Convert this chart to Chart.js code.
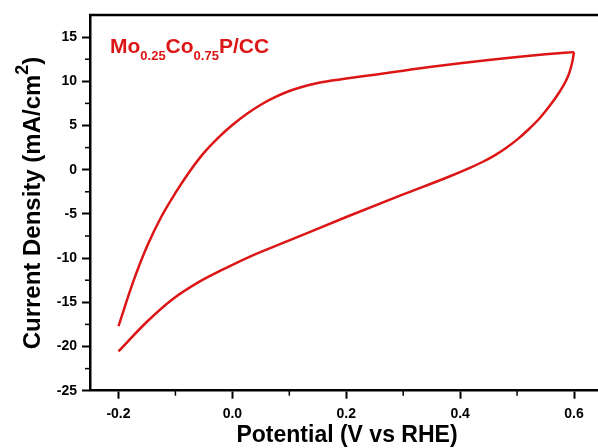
<!DOCTYPE html>
<html>
<head>
<meta charset="utf-8">
<script src="https://cdn.jsdelivr.net/npm/chart.js@4/dist/chart.umd.min.js"></script>
<style>
  html, body { margin: 0; padding: 0; background: #fff; overflow: hidden; }
  #wrap { width: 598px; height: 448px; overflow: hidden; }
</style>
</head>
<body>
<div id="wrap"><canvas id="cv" width="620" height="448"></canvas></div>
<script>
// CV sweep, forward (anodic) branch: potential (V vs RHE) and current density (mA/cm2)
const fwdPotential = [-0.2, -0.175, -0.15, -0.125, -0.1, -0.075, -0.05, -0.025, 0.0, 0.025, 0.05, 0.075, 0.1, 0.125, 0.15, 0.175, 0.2, 0.25, 0.3, 0.35, 0.4, 0.45, 0.5, 0.55, 0.6];
const fwdCurrent   = [-17.7, -12.83, -8.7, -5.35, -2.63, -0.2, 1.9, 3.6, 5.05, 6.3, 7.35, 8.2, 8.9, 9.42, 9.8, 10.08, 10.32, 10.75, 11.2, 11.65, 12.05, 12.42, 12.75, 13.05, 13.3];

// reverse (cathodic) branch
const revPotential = [0.6, 0.597, 0.592, 0.585, 0.575, 0.56, 0.54, 0.52, 0.5, 0.48, 0.46, 0.44, 0.42, 0.38, 0.3, 0.2, 0.1, 0.03, -0.02, -0.06, -0.105, -0.15, -0.2];
const revCurrent   = [13.3, 12.2, 11.0, 9.95, 8.85, 7.45, 5.85, 4.55, 3.4, 2.43, 1.6, 0.9, 0.3, -0.8, -2.8, -5.35, -8.0, -9.85, -11.4, -12.75, -14.65, -17.2, -20.55];

const xTicks = [-0.2, 0.0, 0.2, 0.4, 0.6];
const xMinor = [-0.1, 0.1, 0.3, 0.5];
const yTicks = [-25, -20, -15, -10, -5, 0, 5, 10, 15];
const yMinor = [-22.5, -17.5, -12.5, -7.5, -2.5, 2.5, 7.5, 12.5];

const RED = "#dc1616";
const FONT = "'Liberation Sans', Arial, sans-serif";

const toPoints = (xs, ys) => xs.map((x, i) => ({ x: x, y: ys[i] }));

// minor ticks, top frame line, sample label and axis titles
const decorations = {
  id: "decorations",
  afterDraw(chart) {
    const { ctx, chartArea } = chart;
    const xs = chart.scales.x, ys = chart.scales.y;
    ctx.save();
    ctx.strokeStyle = "#000";
    ctx.lineWidth = 1.5;
    xMinor.forEach(v => {
      const px = xs.getPixelForValue(v);
      ctx.beginPath();
      ctx.moveTo(px, chartArea.bottom);
      ctx.lineTo(px, chartArea.bottom + 5);
      ctx.stroke();
    });
    yMinor.forEach(v => {
      const py = ys.getPixelForValue(v);
      ctx.beginPath();
      ctx.moveTo(chartArea.left, py);
      ctx.lineTo(chartArea.left - 5, py);
      ctx.stroke();
    });

    ctx.lineWidth = 2.5;
    ctx.beginPath();
    ctx.moveTo(chartArea.left - 1, chartArea.top);
    ctx.lineTo(chartArea.right, chartArea.top);
    ctx.stroke();

    // Mo0.25Co0.75P/CC
    ctx.fillStyle = RED;
    ctx.textBaseline = "alphabetic";
    ctx.textAlign = "left";
    let x = 110;
    const parts = [["Mo", false], ["0.25", true], ["Co", false], ["0.75", true], ["P/CC", false]];
    parts.forEach(([t, sub]) => {
      ctx.font = sub ? "bold 13px " + FONT : "bold 21px " + FONT;
      ctx.fillText(t, x, sub ? 60 : 53);
      x += ctx.measureText(t).width;
    });

    // x axis title
    ctx.fillStyle = "#000";
    ctx.font = "bold 23px " + FONT;
    ctx.textAlign = "center";
    ctx.fillText("Potential (V vs RHE)", 347, 442);

    // y axis title with superscript
    ctx.translate(40, 203);
    ctx.rotate(-Math.PI / 2);
    const big = "bold 24px " + FONT, small = "bold 18px " + FONT;
    ctx.font = big;
    const w1 = ctx.measureText("Current Density (mA/cm").width;
    const w3 = ctx.measureText(")").width;
    ctx.font = small;
    const w2 = ctx.measureText("2").width;
    let sx = -(w1 + w2 + w3) / 2;
    ctx.textAlign = "left";
    ctx.font = big;
    ctx.fillText("Current Density (mA/cm", sx, 0);
    sx += w1;
    ctx.font = small;
    ctx.fillText("2", sx, -12);
    sx += w2;
    ctx.font = big;
    ctx.fillText(")", sx, 0);
    ctx.restore();
  }
};

new Chart(document.getElementById("cv"), {
  type: "scatter",
  data: {
    datasets: [
      { data: toPoints(fwdPotential, fwdCurrent), showLine: true, cubicInterpolationMode: "monotone" },
      { data: toPoints(revPotential, revCurrent), showLine: true, cubicInterpolationMode: "monotone" },
    ],
  },
  options: {
    responsive: false,
    animation: false,
    layout: { padding: { left: 0, top: 15, right: 17.5, bottom: 0 } },
    elements: {
      point: { radius: 0 },
      line: { borderColor: RED, borderWidth: 2.5 },
    },
    plugins: { legend: { display: false }, tooltip: { enabled: false } },
    scales: {
      x: {
        type: "linear",
        min: -0.25,
        max: 0.65,
        afterBuildTicks: s => { s.ticks = xTicks.map(v => ({ value: v })); },
        afterFit: s => { s.height = 57.3; },
        border: { display: true, color: "#000", width: 2.5 },
        grid: { drawOnChartArea: false, color: "#000", tickLength: 8, tickWidth: 2 },
        ticks: {
          color: "#000",
          font: { family: FONT, size: 14, weight: "bold" },
          padding: 7,
          maxRotation: 0,
          callback: v => v.toFixed(1),
        },
      },
      y: {
        type: "linear",
        min: -25,
        max: 17.5,
        afterBuildTicks: s => { s.ticks = yTicks.map(v => ({ value: v })); },
        afterFit: s => { s.width = 90; },
        border: { display: true, color: "#000", width: 2.5 },
        grid: { drawOnChartArea: false, color: "#000", tickLength: 8, tickWidth: 2 },
        ticks: {
          color: "#000",
          font: { family: FONT, size: 14, weight: "bold" },
          padding: 5,
          callback: v => String(v),
        },
      },
    },
  },
  plugins: [decorations],
});
</script>
</body>
</html>
